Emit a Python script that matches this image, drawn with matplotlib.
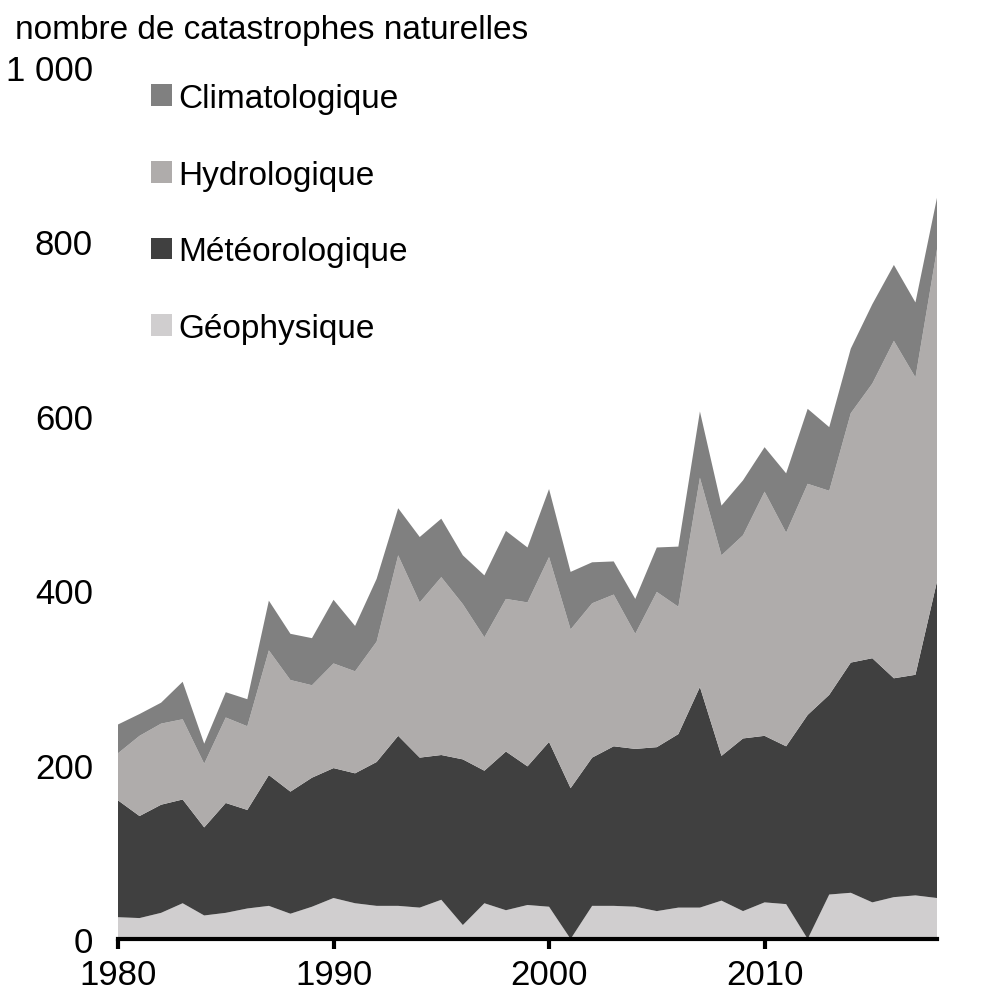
import matplotlib
matplotlib.use("Agg")
import matplotlib.pyplot as plt
from matplotlib.patches import Patch
import numpy as np

plt.rcParams['font.family'] = ['Liberation Sans', 'DejaVu Sans']

years = list(range(1980, 2019))
geophysique = [25, 24, 30, 41, 27, 30, 35, 38, 29, 37, 47, 41, 38, 38, 36, 45, 16, 41, 33, 39,
               37, 0, 38, 38, 37, 32, 36, 36, 44, 32, 42, 40, 0, 51, 53, 42, 48, 50, 47]
meteo_cum = [159, 141, 154, 160, 128, 156, 148, 188, 169, 185, 196, 190, 203, 233, 208, 211, 206, 193, 215, 198,
             226, 173, 208, 221, 218, 220, 235, 289, 210, 230, 233, 221, 257, 280, 317, 322, 299, 303, 410]
hydro_cum = [213, 233, 247, 252, 201, 254, 244, 331, 297, 291, 316, 307, 341, 440, 386, 415, 384, 346, 390, 386,
             438, 355, 385, 395, 350, 398, 381, 529, 440, 463, 513, 466, 522, 514, 603, 637, 686, 644, 791]
total_cum = [246, 258, 271, 295, 224, 283, 275, 388, 350, 345, 389, 359, 413, 494, 461, 482, 440, 417, 468, 449,
             516, 421, 432, 433, 390, 449, 450, 605, 497, 526, 564, 534, 608, 587, 677, 728, 773, 730, 850]

meteorologique = list(np.array(meteo_cum) - np.array(geophysique))
hydrologique = list(np.array(hydro_cum) - np.array(meteo_cum))
climatologique = list(np.array(total_cum) - np.array(hydro_cum))

labels = ['Géophysique', 'Météorologique', 'Hydrologique', 'Climatologique']
colors = ['#D0CECF', '#404040', '#AFACAB', '#808080']
yticks = [0, 200, 400, 600, 800, 1000]
ytick_labels = ['0', '200', '400', '600', '800', '1 000']
xticks = [1980, 1990, 2000, 2010]

fig = plt.figure(figsize=(9.98, 10.04), dpi=100)
ax = fig.add_axes([118/998, 1 - 940/1004, (937-118)/998, (940-68)/1004])

ax.stackplot(years, geophysique, meteorologique, hydrologique, climatologique,
             colors=colors, linewidth=0)

ax.set_xlim(1980, 2018)
ax.set_ylim(0, 1000)
for s in ['top', 'right', 'left']:
    ax.spines[s].set_visible(False)
ax.spines['bottom'].set_linewidth(3)
ax.spines['bottom'].set_zorder(5)
ax.set_yticks(yticks)
ax.set_yticklabels(ytick_labels)
ax.set_xticks(xticks)
ax.set_xticklabels([str(x) for x in xticks])
ax.tick_params(axis='y', length=0, pad=18, labelsize=25)
ax.tick_params(axis='x', length=7, width=3, pad=7, labelsize=25, direction='out')

fig.text(15/998, 1 - 30/1004, 'nombre de catastrophes naturelles', fontsize=24,
         ha='left', va='center')

handles = [Patch(facecolor=c, edgecolor='none', label=l) for c, l in zip(colors, labels)][::-1]
fig.legend(handles=handles, loc='upper left', bbox_to_anchor=(151/998, 1 - 84/1004),
           frameon=False, fontsize=24, handlelength=0.62, handleheight=0.62,
           handletextpad=0.2, labelspacing=1.37, borderpad=0, borderaxespad=0)

fig.savefig('out.png', dpi=100)
